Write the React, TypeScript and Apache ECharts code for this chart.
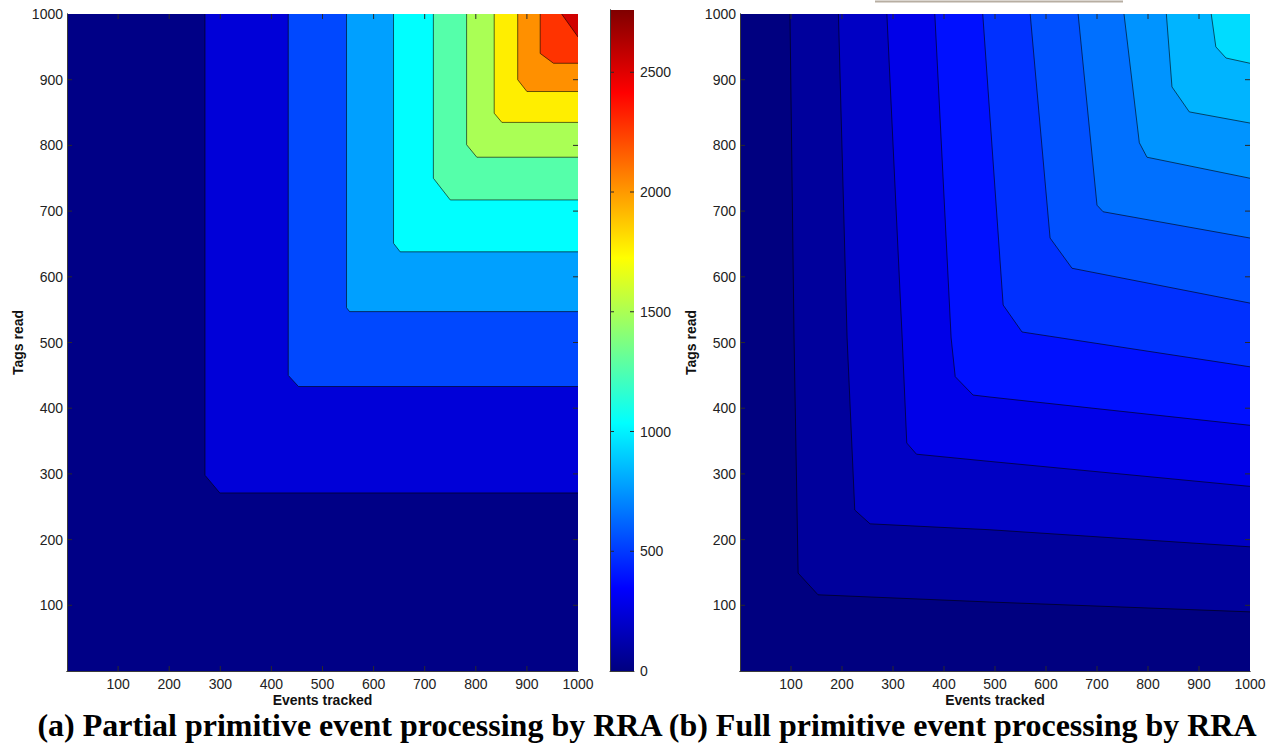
import { useEffect, useRef } from 'react';
import * as echarts from 'echarts';

// ---------- data ----------
// Left: partial primitive event processing (levels & filled-contour boundaries, data units)
const leftLevels = [0, 250, 500, 750, 1000, 1250, 1500, 1750, 2000, 2250, 2500];
const leftColors = ['#000086', '#0000d8', '#0048ff', '#00a0ff', '#00ffff', '#55ffaa', '#aaff55', '#ffee00', '#ff9000', '#ff3300', '#d00000'];
const leftContours: number[][][] = [
  [],
  [[270, 1000], [270, 298], [299, 271], [1000, 271]],
  [[433, 1000], [433, 450], [453, 433], [1000, 433]],
  [[547, 1000], [547, 553], [553, 547], [1000, 547]],
  [[639, 1000], [639, 651], [652, 638], [1000, 638]],
  [[717, 1000], [717, 750], [750, 717], [1000, 717]],
  [[782, 1000], [782, 801], [802, 782], [1000, 782]],
  [[836, 1000], [836, 849], [851, 835], [1000, 835]],
  [[882, 1000], [882, 900], [900, 882], [1000, 882]],
  [[926, 1000], [926, 940], [952, 925], [1000, 925]],
  [[968, 1000], [1000, 965]],
];

// Right: full primitive event processing
const rightLevels = [0, 100, 200, 300, 400, 500, 600, 700, 800, 900, 1000];
const rightColors = ['#000080', '#00009c', '#0000c4', '#0000e8', '#0010ff', '#0030ff', '#0050ff', '#0070ff', '#0094ff', '#00b4ff', '#00dcff'];
const rightContours: number[][][] = [
  [],
  [[98, 1000], [106, 507], [114, 149], [153, 116], [490, 105], [1000, 90]],
  [[193, 1000], [210, 507], [225, 245], [255, 224], [490, 215], [1000, 189]],
  [[288, 1000], [318, 507], [327, 347], [346, 330], [490, 319], [1000, 281]],
  [[382, 1000], [414, 507], [422, 448], [457, 420], [490, 417], [1000, 374]],
  [[476, 1000], [516, 557], [553, 516], [1000, 463]],
  [[569, 1000], [608, 659], [651, 613], [1000, 560]],
  [[663, 1000], [700, 709], [712, 699], [1000, 659]],
  [[753, 1000], [783, 804], [798, 782], [1000, 750]],
  [[836, 1000], [847, 889], [881, 851], [1000, 834]],
  [[924, 1000], [933, 950], [953, 933], [1000, 925]],
];

// Colorbar (jet colormap, 0 .. max)
const colorbarMax = 2760;
const colorbarInterval = 500;
const colorbarTicks = [0, 500, 1000, 1500, 2000, 2500];
const jetStops: [number, string][] = [
  [0, '#000080'], [0.125, '#0000ff'], [0.375, '#00ffff'], [0.625, '#ffff00'], [0.875, '#ff0000'], [1, '#800000'],
];

const axisMin = 0;
const axisMax = 1000;
const axisInterval = 100;
const plotTicks = [100, 200, 300, 400, 500, 600, 700, 800, 900];

const titleText = '(a) Partial primitive event processing by RRA (b) Full primitive event processing by RRA';
const xName = 'Events tracked';
const yName = 'Tags read';

// ---------- helpers ----------
const SANS = '"Liberation Sans", Arial, Helvetica, sans-serif';
const labelStyle = { fontSize: 14, color: '#222', fontFamily: SANS };
const nameStyle = { fontSize: 14, fontWeight: 'bold' as const, color: '#111', fontFamily: SANS, lineHeight: 15 };
const frameLine = () => ({ show: true, lineStyle: { color: '#3a3a3a', width: 1 } });
const noTick = { show: false };
const TICK_COLOR = '#2a2a2a';

function contourRender(contours: number[][][], colors: string[]) {
  return (_params: any, api: any) => {
    const k = api.value(0);
    const line = contours[k];
    const poly = line.length
      ? [...line, [axisMax, axisMax]]
      : [[axisMin, axisMin], [axisMax, axisMin], [axisMax, axisMax], [axisMin, axisMax]];
    const children: any[] = [
      { type: 'polygon', shape: { points: poly.map((p) => api.coord(p)) }, style: { fill: colors[k] } },
    ];
    if (line.length) {
      children.push({
        type: 'polyline',
        shape: { points: line.map((p) => api.coord(p)) },
        style: { stroke: '#000', lineWidth: 0.8, opacity: 0.75, fill: 'none' },
      });
    }
    return { type: 'group', children };
  };
}

// MATLAB-style inward tick marks on the sides of a plot box
function boxTickRender(xMin: number, xMax: number, yMin: number, yMax: number, len: number, horizontal: boolean, vertical: boolean) {
  return (_params: any, api: any) => {
    const v = api.value(0);
    const st = { stroke: TICK_COLOR, lineWidth: 1 };
    const kids: any[] = [];
    if (horizontal) {
      const b = api.coord([v, yMin]);
      const t = api.coord([v, yMax]);
      kids.push({ type: 'line', shape: { x1: b[0], y1: b[1], x2: b[0], y2: b[1] - len }, style: st });
      kids.push({ type: 'line', shape: { x1: t[0], y1: t[1], x2: t[0], y2: t[1] + len }, style: st });
    }
    if (vertical) {
      const l = api.coord([xMin, v]);
      const r = api.coord([xMax, v]);
      kids.push({ type: 'line', shape: { x1: l[0], y1: l[1], x2: l[0] + len, y2: l[1] }, style: st });
      kids.push({ type: 'line', shape: { x1: r[0], y1: r[1], x2: r[0] - len, y2: r[1] }, style: st });
    }
    return { type: 'group', children: kids };
  };
}

function plotXAxes(grid: number) {
  return [
    {
      type: 'value', gridIndex: grid, position: 'bottom', min: axisMin, max: axisMax, interval: axisInterval,
      axisLine: frameLine(), axisTick: noTick, splitLine: { show: false }, z: 10,
      axisLabel: { ...labelStyle, margin: 6, formatter: (v: number) => (v === 0 ? '' : String(v)) },
      name: xName, nameLocation: 'middle', nameGap: 21, nameMoveOverlap: false, nameTextStyle: nameStyle,
    },
    {
      type: 'value', gridIndex: grid, position: 'top', min: axisMin, max: axisMax, interval: axisInterval,
      axisLine: frameLine(), axisTick: noTick, splitLine: { show: false }, axisLabel: { show: false }, z: 10,
    },
  ];
}

function plotYAxes(grid: number) {
  return [
    {
      type: 'value', gridIndex: grid, position: 'left', min: axisMin, max: axisMax, interval: axisInterval,
      axisLine: frameLine(), axisTick: noTick, splitLine: { show: false }, z: 10,
      axisLabel: { ...labelStyle, margin: 4, formatter: (v: number) => (v === 0 ? '' : String(v)) },
      name: yName, nameLocation: 'middle', nameGap: 42, nameMoveOverlap: false, nameTextStyle: nameStyle,
    },
    {
      type: 'value', gridIndex: grid, position: 'right', min: axisMin, max: axisMax, interval: axisInterval,
      axisLine: frameLine(), axisTick: noTick, splitLine: { show: false }, axisLabel: { show: false }, z: 10,
    },
  ];
}

export default function App() {
  const ref = useRef<HTMLDivElement>(null);

  useEffect(() => {
    if (!ref.current) return;
    const chart = echarts.init(ref.current, undefined, { renderer: 'svg' });

    const option: any = {
      animation: false,
      backgroundColor: '#ffffff',
      grid: [
        { left: 67, top: 14, width: 511, height: 657 },
        { left: 610, top: 10, width: 24, height: 661 },
        { left: 740, top: 14, width: 510, height: 657 },
      ],
      xAxis: [
        ...plotXAxes(0), // 0,1
        {
          type: 'value', gridIndex: 1, min: 0, max: 1, position: 'bottom', z: 10,
          axisLine: frameLine(), axisTick: noTick, axisLabel: { show: false }, splitLine: { show: false },
        }, // 2
        ...plotXAxes(2), // 3,4
      ],
      yAxis: [
        ...plotYAxes(0), // 0,1
        {
          type: 'value', gridIndex: 1, position: 'right', min: 0, max: colorbarMax, interval: colorbarInterval, z: 10,
          axisLine: frameLine(), axisTick: noTick,
          axisLabel: { ...labelStyle, margin: 6, showMaxLabel: false, formatter: (v: number) => String(v) },
          splitLine: { show: false },
        }, // 2
        {
          type: 'value', gridIndex: 1, position: 'left', min: 0, max: colorbarMax, interval: colorbarInterval, z: 10,
          axisLine: frameLine(), axisTick: noTick,
          axisLabel: { show: false }, splitLine: { show: false },
        }, // 3
        ...plotYAxes(2), // 4,5
      ],
      series: [
        {
          type: 'custom', name: 'Partial', xAxisIndex: 0, yAxisIndex: 0, silent: true, clip: true, z: 2,
          data: leftLevels.map((_, i) => [i]),
          renderItem: contourRender(leftContours, leftColors),
        },
        {
          type: 'custom', name: 'Partial ticks', xAxisIndex: 0, yAxisIndex: 0, silent: true, z: 3,
          data: plotTicks.map((v) => [v]),
          renderItem: boxTickRender(axisMin, axisMax, axisMin, axisMax, 5, true, true),
        },
        {
          type: 'custom', name: 'Colorbar', xAxisIndex: 2, yAxisIndex: 2, silent: true, z: 2,
          data: [[0, colorbarMax]],
          renderItem: (_p: any, api: any) => {
            const p0 = api.coord([0, 0]);
            const p1 = api.coord([1, api.value(1)]);
            return {
              type: 'rect',
              shape: { x: p0[0], y: p1[1], width: p1[0] - p0[0], height: p0[1] - p1[1] },
              style: {
                fill: new echarts.graphic.LinearGradient(0, 1, 0, 0,
                  jetStops.map(([offset, color]) => ({ offset, color }))),
              },
            };
          },
        },
        {
          type: 'custom', name: 'Colorbar ticks', xAxisIndex: 2, yAxisIndex: 2, silent: true, z: 3,
          data: colorbarTicks.slice(1).map((v) => [v]),
          renderItem: boxTickRender(0, 1, 0, colorbarMax, 4, false, true),
        },
        {
          type: 'custom', name: 'Full', xAxisIndex: 3, yAxisIndex: 4, silent: true, clip: true, z: 2,
          data: rightLevels.map((_, i) => [i]),
          renderItem: contourRender(rightContours, rightColors),
        },
        {
          type: 'custom', name: 'Full ticks', xAxisIndex: 3, yAxisIndex: 4, silent: true, z: 3,
          data: plotTicks.map((v) => [v]),
          renderItem: boxTickRender(axisMin, axisMax, axisMin, axisMax, 5, true, true),
        },
      ],
      graphic: [
        {
          type: 'line', shape: { x1: 875, y1: 1.5, x2: 1123, y2: 1.5 },
          style: { stroke: '#b7aea2', lineWidth: 2 },
        },
        {
          type: 'text', x: 647, y: 725,
          style: {
            text: titleText, fill: '#000', align: 'center', verticalAlign: 'middle', lineHeight: 28,
            font: 'bold 32px "Liberation Serif", "Times New Roman", Times, serif',
          },
        },
      ],
    };

    chart.setOption(option);
    return () => chart.dispose();
  }, []);

  return (
    <div
      ref={ref}
      style={{ position: 'fixed', left: 0, top: 0, width: 1277, height: 744, background: '#fff' }}
    />
  );
}
